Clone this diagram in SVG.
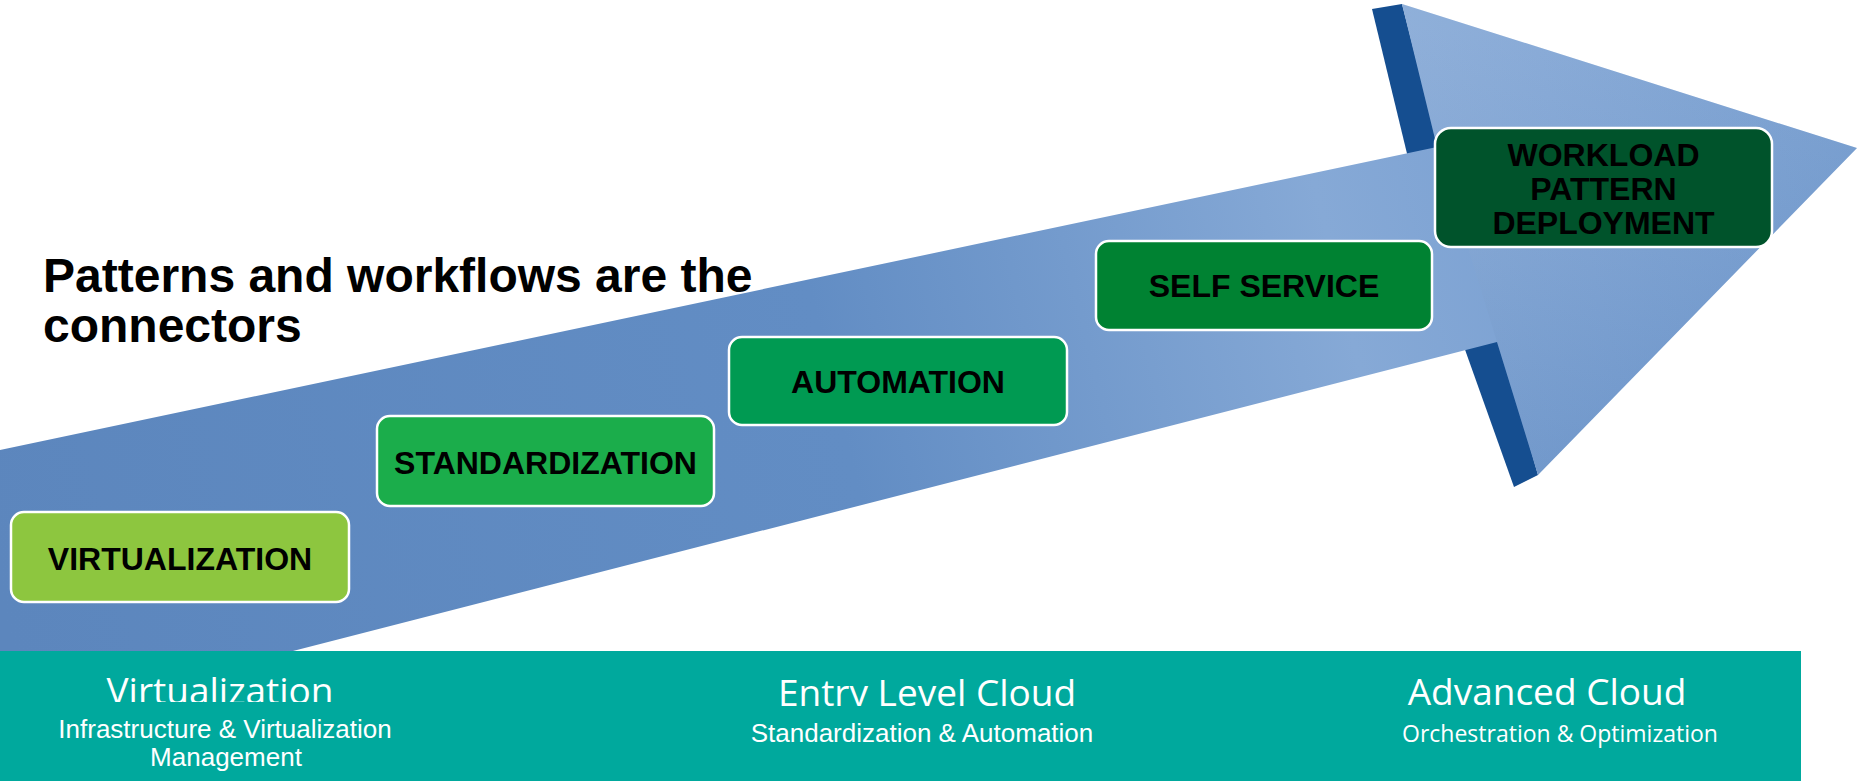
<svg xmlns="http://www.w3.org/2000/svg" width="1858" height="781" viewBox="0 0 1858 781">
  <defs>
    <style>
      .box { stroke: #ffffff; stroke-width: 2.5; }
      .lbl { font-family: "Liberation Sans", Arial, sans-serif; font-weight: bold; font-size: 32px; fill: #000000; text-anchor: middle; }
      .title { font-family: "Liberation Sans", Arial, sans-serif; font-weight: bold; font-size: 48px; fill: #000000; }
      .head { font-family: "Open Sans", "Noto Sans", sans-serif; font-size: 37px; fill: #ffffff; text-anchor: middle; }
      .sub { font-family: "Liberation Sans", Arial, sans-serif; font-size: 26px; fill: #ffffff; text-anchor: middle; }
      .subo { font-family: "Open Sans", "Noto Sans", sans-serif; font-size: 23px; fill: #ffffff; text-anchor: middle; }
      .strip { fill: #154e90; }
    </style>
    <linearGradient id="arrowGrad" gradientUnits="userSpaceOnUse" x1="0" y1="600" x2="1857" y2="150">
      <stop offset="0" stop-color="#5c86bd"/>
      <stop offset="0.45" stop-color="#628dc4"/>
      <stop offset="0.72" stop-color="#86a9d6"/>
      <stop offset="0.85" stop-color="#7aa0d2"/>
      <stop offset="1" stop-color="#6b95cb"/>
    </linearGradient>
    <linearGradient id="headShade" gradientUnits="userSpaceOnUse" x1="1600" y1="40" x2="1560" y2="470">
      <stop offset="0" stop-color="#ffffff" stop-opacity="0.12"/>
      <stop offset="1" stop-color="#2d5e9e" stop-opacity="0.15"/>
    </linearGradient>
    <clipPath id="clipVirt"><rect x="0" y="651" width="600" height="51"/></clipPath>
    <clipPath id="clipEntry"><rect x="600" y="651" width="600" height="55"/></clipPath>
  </defs>

  <rect x="0" y="0" width="1858" height="781" fill="#ffffff"/>

  <g id="arrow">
    <polygon class="strip" points="1372,9 1402,4 1442,160 1410,166"/>
    <polygon class="strip" points="1458,330 1495,322 1538,475 1514,487"/>
    <polygon fill="url(#arrowGrad)" points="0,450 1437,147 1402,4 1857,148 1538,475 1497,342 293,651 0,651"/>
    <polygon fill="url(#headShade)" points="1437,147 1402,4 1857,148 1538,475 1497,342"/>
  </g>

  <g id="title">
    <text class="title" x="43" y="292">Patterns and workflows are the</text>
    <text class="title" x="43" y="342">connectors</text>
  </g>

  <g id="node-virtualization">
    <rect class="box" x="11" y="512" width="338" height="90" rx="13" fill="#8dc63f"/>
    <text class="lbl" x="180" y="570">VIRTUALIZATION</text>
  </g>
  <g id="node-standardization">
    <rect class="box" x="377" y="416" width="337" height="90" rx="13" fill="#1bad4b"/>
    <text class="lbl" x="545.5" y="474">STANDARDIZATION</text>
  </g>
  <g id="node-automation">
    <rect class="box" x="729" y="337" width="338" height="88" rx="13" fill="#009a52"/>
    <text class="lbl" x="898" y="393">AUTOMATION</text>
  </g>
  <g id="node-selfservice">
    <rect class="box" x="1096" y="241" width="336" height="89" rx="13" fill="#008232"/>
    <text class="lbl" x="1264" y="297">SELF SERVICE</text>
  </g>
  <g id="node-workload">
    <rect class="box" x="1435" y="128" width="337" height="119" rx="16" fill="#00532b"/>
    <text class="lbl" x="1603.5" y="166">WORKLOAD</text>
    <text class="lbl" x="1603.5" y="200">PATTERN</text>
    <text class="lbl" x="1603.5" y="234">DEPLOYMENT</text>
  </g>

  <g id="band">
    <rect x="0" y="651" width="1801" height="130" fill="#00a99d"/>
    <g id="stage-virtualization">
      <text class="head" x="220" y="704" clip-path="url(#clipVirt)">Virtualization</text>
      <text class="sub" x="225" y="738">Infrastructure &amp; Virtualization</text>
      <text class="sub" x="226" y="766">Management</text>
    </g>
    <g id="stage-entry">
      <text class="head" x="927" y="706" clip-path="url(#clipEntry)">Entry Level Cloud</text>
      <text class="sub" x="922" y="742">Standardization &amp; Automation</text>
    </g>
    <g id="stage-advanced">
      <text class="head" x="1547" y="705">Advanced Cloud</text>
      <text class="subo" x="1560" y="742">Orchestration &amp; Optimization</text>
    </g>
  </g>
</svg>
